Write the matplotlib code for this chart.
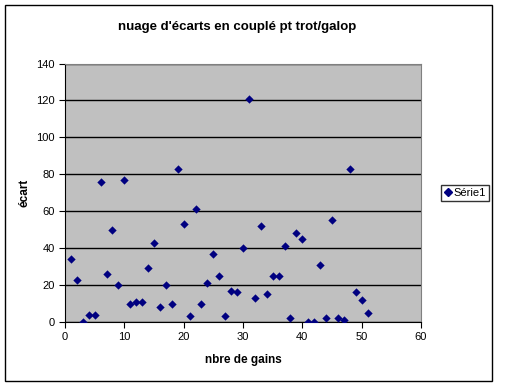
import matplotlib
matplotlib.use("Agg")
import matplotlib.pyplot as plt
from matplotlib.patches import Rectangle
from matplotlib.lines import Line2D

plt.rcParams['font.family'] = ['Liberation Sans', 'DejaVu Sans']

gains = list(range(1, 52))
ecart = [34, 23, 0, 4, 4, 76, 26, 50, 20, 77,
         10, 11, 11, 29, 43, 8, 20, 10, 83, 53,
         3, 61, 10, 21, 37, 25, 3, 17, 16, 40,
         121, 13, 52, 15, 25, 25, 41, 2, 48, 45,
         0, 0, 31, 2, 55, 2, 1, 83, 16, 12, 5]
title = "nuage d'écarts en couplé pt trot/galop"
xlabel = "nbre de gains"
ylabel = "écart"
series_name = "Série1"

fig = plt.figure(figsize=(5.12, 3.87), dpi=100)
fig.patch.set_facecolor('white')
fig.add_artist(Rectangle((5/512, 6/387), 487/512, 376/387, transform=fig.transFigure,
                         fill=False, edgecolor='black', linewidth=1))

ax = fig.add_axes([65/512, 65/387, 356/512, 258.5/387])
ax.set_facecolor('#C0C0C0')
ax.set_xlim(0, 60)
ax.set_ylim(0, 140)
ax.set_xticks(range(0, 61, 10))
ax.set_yticks(range(0, 141, 20))
ax.yaxis.grid(True, color='black', linewidth=1)
ax.set_axisbelow(True)
for s in ['top', 'right']:
    ax.spines[s].set_color('#808080')
for s in ['left', 'bottom']:
    ax.spines[s].set_color('black')
ax.tick_params(labelsize=8, length=4, direction='out', width=0.8)

ax.scatter(gains, ecart, marker='D', s=18, color='#000080', zorder=3, linewidths=0)

ax.set_xlabel(xlabel, fontsize=8.5, fontweight='bold', labelpad=8)
ax.set_ylabel(ylabel, fontsize=8.5, fontweight='bold', labelpad=4)
fig.text(237/512, 1 - 27/387, title, ha='center', va='center',
         fontsize=9.5, fontweight='bold')

handle = Line2D([], [], marker='D', linestyle='none', color='#000080', markersize=4)
leg = fig.legend([handle], [series_name], loc='center left',
                 bbox_to_anchor=(441/512, 1 - 193/387), fontsize=8, frameon=True,
                 fancybox=False, edgecolor='black', handletextpad=0.15,
                 handlelength=0.7, borderpad=0.3, handleheight=0.7,
                 borderaxespad=0)
leg.get_frame().set_linewidth(1)

fig.savefig('out.png', dpi=100)
